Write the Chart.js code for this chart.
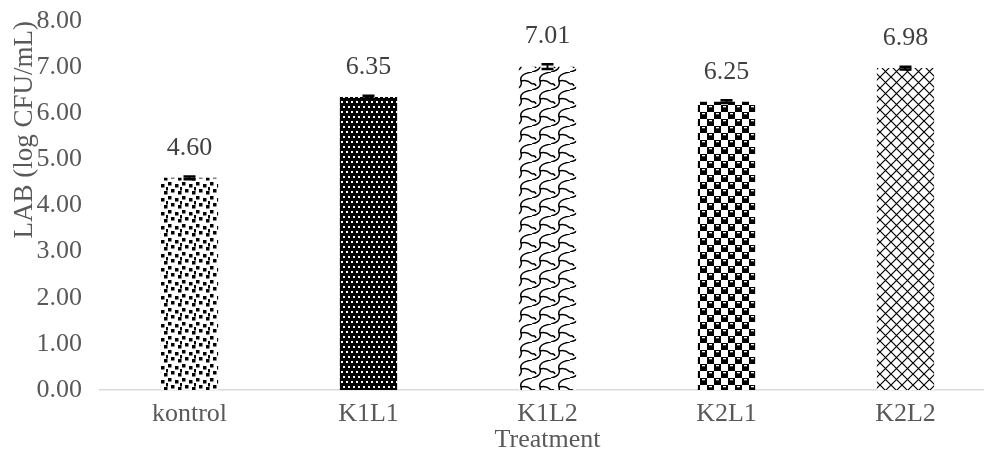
<!DOCTYPE html>
<html>
<head>
<meta charset="utf-8">
<script src="https://cdn.jsdelivr.net/npm/chart.js@4.4.1/dist/chart.umd.min.js"></script>
<style>
  html, body { margin: 0; padding: 0; background: #ffffff; overflow: hidden; }
  #wrap { position: relative; width: 1000px; height: 453px; }
</style>
</head>
<body>
<div id="wrap"><canvas id="c"></canvas></div>
<script>
// ---- data ----
const categories = ['kontrol', 'K1L1', 'K1L2', 'K2L1', 'K2L2'];
const labValues = [4.60, 6.35, 7.01, 6.25, 6.98];
const errValues = [0.03, 0.03, 0.05, 0.03, 0.03];
const yTickValues = [0, 1, 2, 3, 4, 5, 6, 7, 8];
const yTitle = 'LAB (log CFU/mL)';
const xTitle = 'Treatment';

// ---- patterns ----
function makePattern(w, h, draw) {
  const c = document.createElement('canvas');
  c.width = w; c.height = h;
  const g = c.getContext('2d');
  draw(g, w, h);
  return g.createPattern(c, 'repeat');
}
const patConfetti = makePattern(14, 14, (g, w, h) => {
  g.fillStyle = '#fff'; g.fillRect(0, 0, w, h);
  g.fillStyle = '#000';
  [[0,0],[7,2],[3,7],[10,9],[12,5]].forEach(p => g.fillRect(p[0], p[1], 3.5, 3.5));
});
const patDots = makePattern(10, 10, (g, w, h) => {
  g.fillStyle = '#000'; g.fillRect(0, 0, w, h);
  g.fillStyle = '#fff';
  [[1,1],[6,1],[3,6],[8,6]].forEach(p => g.fillRect(p[0], p[1], 2, 2));
});
const patShingle = makePattern(19, 18, (g, w, h) => {
  g.fillStyle = '#fff'; g.fillRect(0, 0, w, h);
  g.strokeStyle = '#000'; g.lineWidth = 1.5;
  g.beginPath();
  g.moveTo(0, 18);
  g.quadraticCurveTo(10, 16, 8, 9);
  g.quadraticCurveTo(6, 2, 19, 0);
  g.moveTo(8, 9);
  g.quadraticCurveTo(14, 7, 19, 12);
  g.moveTo(0, 12);
  g.quadraticCurveTo(3, 11, 4, 14);
  g.stroke();
});
const patSphere = makePattern(14, 14, (g, w, h) => {
  g.fillStyle = '#fff'; g.fillRect(0, 0, w, h);
  g.fillStyle = '#000';
  g.fillRect(0, 0, 7, 7); g.fillRect(7, 7, 7, 7);
  g.fillStyle = '#fff';
  g.fillRect(2, 1, 3, 1.3); g.fillRect(9, 8, 3, 1.3);
});
const patDiamond = makePattern(11, 11, (g, w, h) => {
  g.fillStyle = '#fff'; g.fillRect(0, 0, w, h);
  g.strokeStyle = '#000'; g.lineWidth = 1.2;
  g.beginPath();
  g.moveTo(0, 0); g.lineTo(w, h);
  g.moveTo(w, 0); g.lineTo(0, h);
  g.stroke();
});
const barPatterns = [patConfetti, patDots, patShingle, patSphere, patDiamond];

const FONT = "'Liberation Serif', 'Times New Roman', serif";

// ---- plugins: error bars and value labels ----
const errorAndLabels = {
  id: 'errorAndLabels',
  afterDatasetsDraw(chart) {
    const ctx = chart.ctx;
    const meta = chart.getDatasetMeta(0);
    const ys = chart.scales.y;
    ctx.save();
    meta.data.forEach((el, i) => {
      const v = labValues[i], e = errValues[i];
      const yt = ys.getPixelForValue(v + e);
      const yb = ys.getPixelForValue(v - e);
      ctx.strokeStyle = '#000';
      ctx.lineWidth = 2;
      ctx.beginPath();
      ctx.moveTo(el.x, yt); ctx.lineTo(el.x, yb);
      ctx.stroke();
      ctx.lineWidth = 2.5;
      ctx.beginPath();
      ctx.moveTo(el.x - 6, yt); ctx.lineTo(el.x + 6, yt);
      ctx.moveTo(el.x - 6, yb); ctx.lineTo(el.x + 6, yb);
      ctx.stroke();
    });
    ctx.fillStyle = '#404040';
    ctx.font = '26px ' + FONT;
    ctx.textAlign = 'center';
    ctx.textBaseline = 'middle';
    meta.data.forEach((el, i) => {
      ctx.fillText(labValues[i].toFixed(2), el.x, el.y - 30);
    });
    ctx.restore();
  }
};

new Chart(document.getElementById('c'), {
  type: 'bar',
  data: {
    labels: categories,
    datasets: [{
      data: labValues,
      backgroundColor: barPatterns,
      borderWidth: 0,
      categoryPercentage: 1.0,
      barPercentage: 0.32
    }]
  },
  options: {
    responsive: true,
    maintainAspectRatio: false,
    animation: false,
    layout: { padding: { top: 21, right: 5, bottom: 0, left: 0 } },
    plugins: { legend: { display: false }, tooltip: { enabled: false } },
    scales: {
      x: {
        grid: { display: false, drawTicks: false },
        border: { display: true, color: '#d9d9d9', width: 1.5 },
        ticks: { color: '#595959', font: { family: FONT, size: 26 }, padding: 9 },
        title: { display: true, text: xTitle, color: '#595959',
                 font: { family: FONT, size: 26, lineHeight: 1 }, padding: { top: 0, bottom: 0 } },
        afterFit: s => { s.height = 63; }
      },
      y: {
        min: 0, max: 8,
        afterBuildTicks: s => { s.ticks = yTickValues.map(v => ({ value: v })); },
        grid: { display: false, drawTicks: false },
        border: { display: false },
        ticks: { color: '#595959', font: { family: FONT, size: 26 }, padding: 18,
                 callback: v => Number(v).toFixed(2) },
        title: { display: true, text: yTitle, color: '#595959', align: 'end',
                 font: { family: FONT, size: 27, lineHeight: 1.2 }, padding: { top: 9, bottom: 0 } },
        afterFit: s => { s.width = 100; s.paddingTop = 0; s.paddingBottom = 0; }
      }
    }
  },
  plugins: [errorAndLabels]
});
</script>
</body>
</html>
